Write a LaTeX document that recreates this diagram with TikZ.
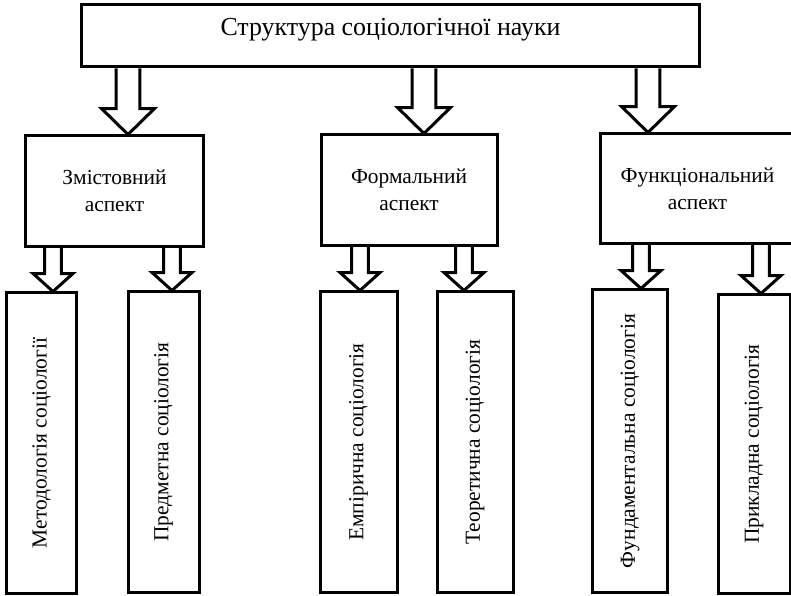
\documentclass[tikz,border=0pt]{standalone}
\usepackage{fontspec}
\setmainfont{Liberation Serif}
\usetikzlibrary{calc}

\tikzset{
  box/.style={draw, line width=3bp, rectangle, inner sep=0pt},
  aspect/.style={box, align=center, font=\fontsize{21.5}{27}\selectfont, minimum height=110bp},
  branch/.style={box, font=\fontsize{21.5}{26}\selectfont, minimum height=300bp},
  fat/.style={draw, line width=3bp, line join=miter},
}

% hollow block arrow: x, from, to, stem half, head half, head length
\newcommand{\hollowarrow}[6]{%
  \draw[fat] let \p1=(#1,0 |- #2.south), \p2=(#1,0 |- #3.north) in
    (\x1-#4,\y1) -- (\x1-#4,\y2+#6) -- (\x1-#5,\y2+#6) -- (\p2)
    -- (\x1+#5,\y2+#6) -- (\x1+#4,\y2+#6) -- (\x1+#4,\y1);}
\newcommand{\bigarrow}[3]{\hollowarrow{#1}{#2}{#3}{12}{26.5}{26}}
\newcommand{\smallarrow}[3]{\hollowarrow{#1}{#2}{#3}{8.5}{20}{18}}

\begin{document}
\begin{tikzpicture}[x=1bp,y=-1bp]
  \useasboundingbox (0,0) rectangle (791,596);
  \clip (0,0) rectangle (791,596);
  \node[box, minimum width=617bp, minimum height=62bp, text height=8bp, text depth=8bp,
    font=\fontsize{26}{31}\selectfont] (0) at (390.5,36) {Структура соціологічної науки};
  \node[aspect, minimum width=177bp] (1) at (114.5,191) {Змістовний\\аспект};
  \node[aspect, minimum width=176bp] (2) at (409,190) {Формальний\\аспект};
  \node[aspect, minimum width=195bp, minimum height=109bp] (3) at (697.5,188.5) {Функціональний\\аспект};
  \node[branch, minimum width=69bp] (4) at (41.5,443) {\rotatebox{90}{Методологія соціології}};
  \node[branch, minimum width=71bp] (5) at (163.5,442) {\rotatebox{90}{Предметна соціологія}};
  \node[branch, minimum width=77bp] (6) at (358.5,442) {\rotatebox{90}{Емпірична соціологія}};
  \node[branch, minimum width=76bp] (7) at (475,442) {\rotatebox{90}{Теоретична соціологія}};
  \node[branch, minimum width=75bp, minimum height=302bp] (8) at (630,441) {\rotatebox{90}{Фундаментальна соціологія}};
  \node[branch, minimum width=72bp, minimum height=298bp] (9) at (754,444) {\rotatebox{90}{Прикладна соціологія}};
  \bigarrow{128}{0}{1}
  \bigarrow{424}{0}{2}
  \bigarrow{648}{0}{3}
  \smallarrow{53}{1}{4}
  \smallarrow{172}{1}{5}
  \smallarrow{360}{2}{6}
  \smallarrow{464}{2}{7}
  \smallarrow{641}{3}{8}
  \smallarrow{761}{3}{9}
\end{tikzpicture}
\end{document}
